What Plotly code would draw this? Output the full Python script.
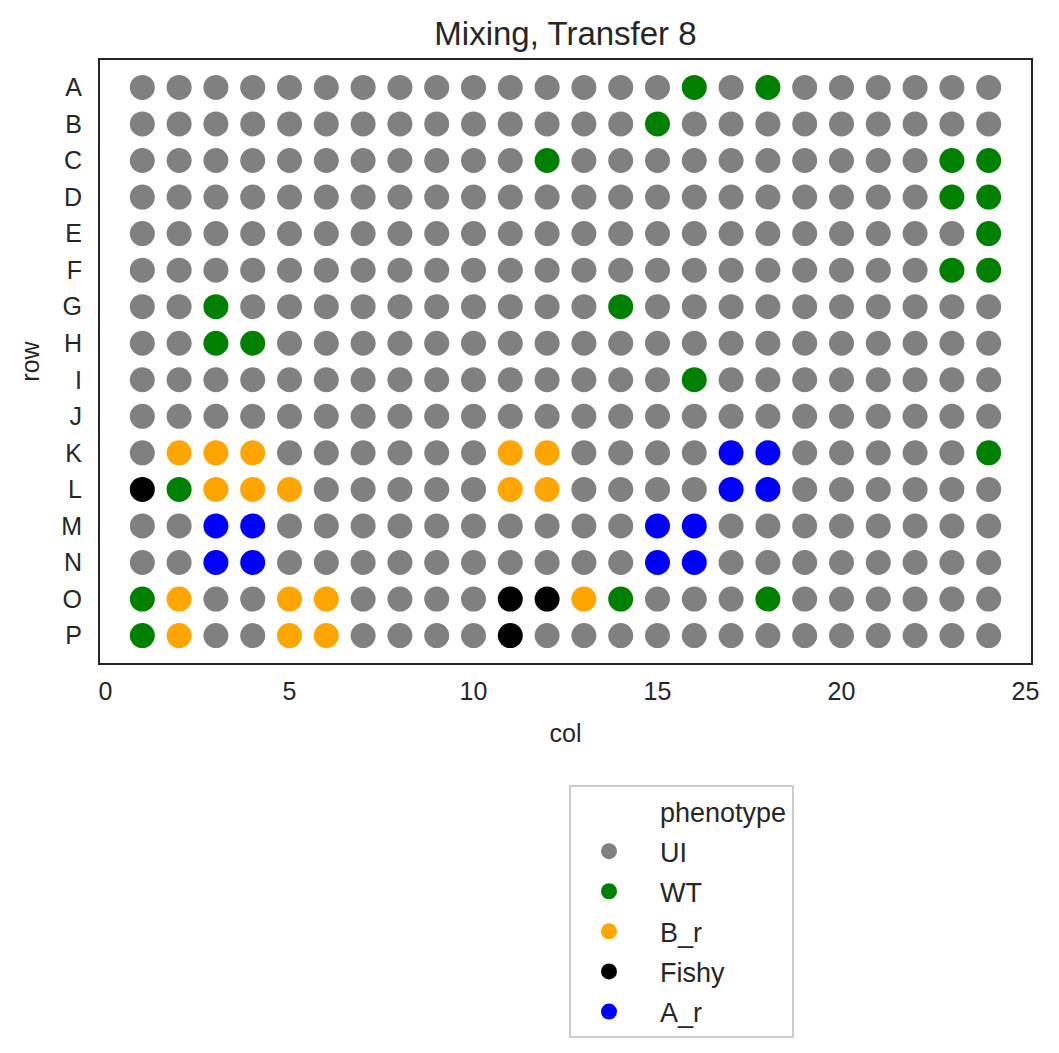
import plotly.graph_objects as go

# Plate layout data
row_labels = list("ABCDEFGHIJKLMNOP")
col_numbers = list(range(1, 25))
# one code per well: U=UI, W=WT, B=B_r, F=Fishy, A=A_r
plate_rows = [
    "UUUUUUUUUUUUUUUWUWUUUUUU",  # A
    "UUUUUUUUUUUUUUWUUUUUUUUU",  # B
    "UUUUUUUUUUUWUUUUUUUUUUWW",  # C
    "UUUUUUUUUUUUUUUUUUUUUUWW",  # D
    "UUUUUUUUUUUUUUUUUUUUUUUW",  # E
    "UUUUUUUUUUUUUUUUUUUUUUWW",  # F
    "UUWUUUUUUUUUUWUUUUUUUUUU",  # G
    "UUWWUUUUUUUUUUUUUUUUUUUU",  # H
    "UUUUUUUUUUUUUUUWUUUUUUUU",  # I
    "UUUUUUUUUUUUUUUUUUUUUUUU",  # J
    "UBBBUUUUUUBBUUUUAAUUUUUW",  # K
    "FWBBBUUUUUBBUUUUAAUUUUUU",  # L
    "UUAAUUUUUUUUUUAAUUUUUUUU",  # M
    "UUAAUUUUUUUUUUAAUUUUUUUU",  # N
    "WBUUBBUUUUFFBWUUUWUUUUUU",  # O
    "WBUUBBUUUUFUUUUUUUUUUUUU",  # P
]
phenotype_codes = ["U", "W", "B", "F", "A"]
phenotype_names = ["UI", "WT", "B_r", "Fishy", "A_r"]
phenotype_colors = ["#808080", "#008000", "#FFA500", "#000000", "#0000FF"]
x_ticks = [0, 5, 10, 15, 20, 25]

TEXT = "#262626"
FONT = "Liberation Sans, Arial, sans-serif"

W, H = 1051, 1045  # page has an 8px body margin

fig = go.Figure()

# blank-handle legend entry acting as the legend title (seaborn style)
fig.add_trace(go.Scatter(
    x=[None], y=[None], mode="markers", name="phenotype", legendgroup="title",
    marker=dict(color="rgba(0,0,0,0)", size=16), hoverinfo="skip",
))

for code, name, color in zip(phenotype_codes, phenotype_names, phenotype_colors):
    xs, ys = [], []
    for r, row_str in zip(row_labels, plate_rows):
        for c, ch in zip(col_numbers, row_str):
            if ch == code:
                xs.append(c)
                ys.append(r)
    fig.add_trace(go.Scatter(
        x=xs, y=ys, mode="markers", name=name, legendgroup=name,
        marker=dict(color=color, size=25, line=dict(width=0)),
    ))

fig.update_layout(
    width=W, height=H,
    paper_bgcolor="white", plot_bgcolor="white",
    margin=dict(l=92, r=28, t=52, b=390),
    font=dict(family=FONT, color=TEXT, size=24),
    title=dict(
        text="Mixing, Transfer 8", x=0.5, xref="paper",
        y=1 - 25 / H, yref="container", yanchor="middle", xanchor="center",
        font=dict(size=33, color=TEXT, family=FONT),
    ),
    showlegend=True,
    legend=dict(
        x=(569 - 100) / 931, y=(663 - 785) / 603,
        xanchor="left", yanchor="top",
        bordercolor="#cccccc", borderwidth=2, bgcolor="white",
        font=dict(size=27, color=TEXT, family=FONT),
        itemsizing="trace", indentation=-13, itemwidth=92,
        traceorder="grouped", tracegroupgap=2,
    ),
)

fig.update_xaxes(
    range=[-0.15, 25.15], tickmode="array", tickvals=x_ticks,
    showgrid=False, zeroline=False,
    showline=True, linecolor=TEXT, linewidth=2, mirror=True,
    ticks="", ticklabelstandoff=5,
    tickfont=dict(size=25, color=TEXT, family=FONT),
    title=dict(text="col", font=dict(size=25, color=TEXT, family=FONT), standoff=20),
)
fig.update_yaxes(
    type="category", categoryorder="array", categoryarray=row_labels,
    range=[15.75, -0.75],
    showgrid=False, zeroline=False,
    showline=True, linecolor=TEXT, linewidth=2, mirror=True,
    ticks="", ticklabelstandoff=11,
    tickfont=dict(size=25, color=TEXT, family=FONT),
    title=dict(text="row", font=dict(size=25, color=TEXT, family=FONT), standoff=14),
)

fig.write_html("out.html")
